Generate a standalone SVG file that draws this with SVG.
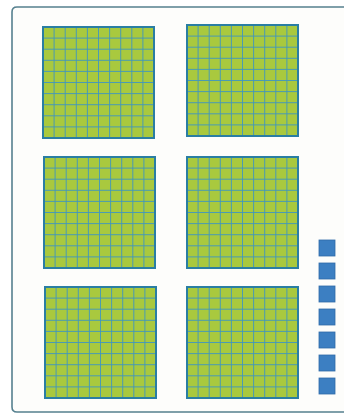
<svg xmlns="http://www.w3.org/2000/svg" xmlns:xlink="http://www.w3.org/1999/xlink" width="344" height="418" viewBox="0 0 344 418">
<style>
.frame{fill:#fdfdfb;stroke:#56808f;stroke-width:1.6}
.sq{fill:#3c7fc2;stroke:#2f6aa8;stroke-width:0.8}
.gfill{fill:#a9c93e;stroke:#2f86a8;stroke-width:2}
.gl{stroke:#3f96c0;stroke-width:1;fill:none;opacity:0.9}
</style>
<defs>
<g id="grid">
<rect class="gfill" x="0" y="0" width="111" height="111"/>
<path class="gl" d="M11.1 0V111M22.2 0V111M33.3 0V111M44.4 0V111M55.5 0V111M66.6 0V111M77.7 0V111M88.8 0V111M99.9 0V111M0 11.1H111M0 22.2H111M0 33.3H111M0 44.4H111M0 55.5H111M0 66.6H111M0 77.7H111M0 88.8H111M0 99.9H111"/>
<rect x="0" y="0" width="111" height="111" fill="none" stroke="#2a7ea3" stroke-width="2"/>
</g>
</defs>
<path class="frame" d="M400 7H17Q12 7 12 12V407Q12 412 17 412H400"/>
<g id="block1"><use xlink:href="#grid" x="43" y="27"/></g>
<g id="block2"><use xlink:href="#grid" x="187" y="25"/></g>
<g id="block3"><use xlink:href="#grid" x="44" y="157"/></g>
<g id="block4"><use xlink:href="#grid" x="187" y="157"/></g>
<g id="block5"><use xlink:href="#grid" x="45" y="287"/></g>
<g id="block6"><use xlink:href="#grid" x="187" y="287"/></g>
<g id="units">
<rect class="sq" x="319" y="240" width="16" height="16"/>
<rect class="sq" x="319" y="263" width="16" height="16"/>
<rect class="sq" x="319" y="286" width="16" height="16"/>
<rect class="sq" x="319" y="309" width="16" height="16"/>
<rect class="sq" x="319" y="332" width="16" height="16"/>
<rect class="sq" x="319" y="355" width="16" height="16"/>
<rect class="sq" x="319" y="378" width="16" height="16"/>
</g>
</svg>
